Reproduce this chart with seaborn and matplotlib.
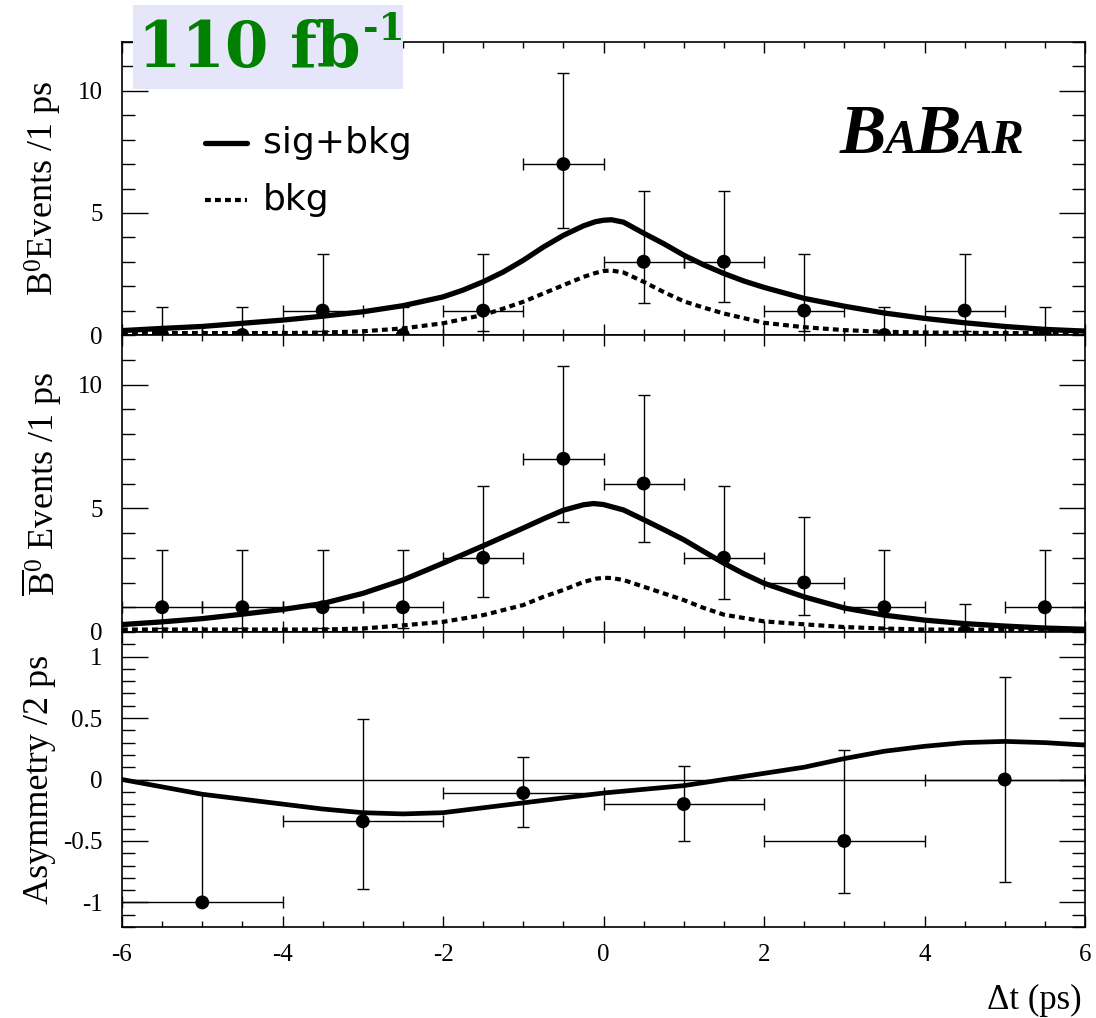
import numpy as np
import pandas as pd
import matplotlib
matplotlib.use("Agg")
import matplotlib.pyplot as plt
import seaborn as sns
from matplotlib.ticker import MultipleLocator, FuncFormatter
from matplotlib.patches import Rectangle
from matplotlib.lines import Line2D

# ---------------- data ----------------
bin_centers = [-5.5, -4.5, -3.5, -2.5, -1.5, -0.5, 0.5, 1.5, 2.5, 3.5, 4.5, 5.5]
bin_half = [0.5] * 12

b0_counts = [0, 0, 1, 0, 1, 7, 3, 3, 1, 0, 1, 0]
b0_err_lo = [0, 0, 0.83, 0, 0.83, 2.6, 1.7, 1.65, 0.83, 0, 0.83, 0]
b0_err_hi = [1.15, 1.15, 2.3, 1.15, 2.3, 3.73, 2.88, 2.9, 2.3, 1.15, 2.3, 1.15]

b0bar_counts = [1, 1, 1, 1, 3, 7, 6, 3, 2, 1, 0, 1]
b0bar_err_lo = [0.83, 0.83, 0.83, 0.83, 1.6, 2.55, 2.38, 1.65, 1.32, 0.83, 0, 0.83]
b0bar_err_hi = [2.3, 2.3, 2.3, 2.3, 2.9, 3.75, 3.58, 2.9, 2.65, 2.3, 1.15, 2.3]

asym_x = [-5, -3, -1, 1, 3, 5]
asym_half = [1, 1, 1, 1, 1, 1]
asym_y = [-1.0, -0.34, -0.11, -0.2, -0.5, 0.0]
asym_err_lo = [0.0, 0.55, 0.28, 0.3, 0.42, 0.83]
asym_err_hi = [0.88, 0.83, 0.29, 0.31, 0.74, 0.83]

# fitted curves
top_sb_t = [-6, -5.5, -5, -4.5, -4, -3.5, -3, -2.5, -2, -1.75, -1.5, -1.25, -1, -0.75, -0.5, -0.25,
            -0.1, 0, 0.1, 0.25, 0.5, 0.75, 1, 1.25, 1.5, 1.75, 2, 2.5, 3, 3.5, 4, 4.5, 5, 5.5, 6]
top_sb_v = [0.18, 0.27, 0.35, 0.48, 0.61, 0.77, 0.95, 1.2, 1.56, 1.84, 2.18, 2.58, 3.06, 3.6, 4.08, 4.47,
            4.64, 4.7, 4.72, 4.62, 4.17, 3.74, 3.27, 2.87, 2.52, 2.21, 1.95, 1.5, 1.18, 0.9, 0.68, 0.5, 0.35, 0.23, 0.16]

top_bkg_t = [-6, -5, -4, -3.5, -3, -2.5, -2, -1.5, -1.25, -1, -0.75, -0.5, -0.25, -0.1, 0, 0.1, 0.25,
             0.5, 0.75, 1, 1.25, 1.5, 2, 2.5, 3, 3.5, 4, 5, 6]
top_bkg_v = [0.08, 0.08, 0.08, 0.1, 0.15, 0.27, 0.48, 0.82, 1.08, 1.36, 1.7, 2.04, 2.38, 2.54, 2.62, 2.64, 2.56,
             2.18, 1.76, 1.38, 1.12, 0.88, 0.5, 0.32, 0.2, 0.13, 0.1, 0.08, 0.08]

mid_sb_t = [-6, -5.5, -5, -4.5, -4, -3.5, -3, -2.5, -2, -1.5, -1, -0.75, -0.5, -0.25, -0.125, 0,
            0.25, 0.5, 0.75, 1, 1.25, 1.5, 1.75, 2, 2.5, 3, 3.5, 4, 4.5, 5, 5.5, 6]
mid_sb_v = [0.3, 0.41, 0.54, 0.72, 0.91, 1.15, 1.56, 2.1, 2.78, 3.48, 4.2, 4.57, 4.92, 5.14, 5.19, 5.15,
            4.93, 4.54, 4.14, 3.73, 3.25, 2.78, 2.35, 1.97, 1.42, 0.97, 0.68, 0.48, 0.34, 0.24, 0.16, 0.11]

mid_bkg_t = [-6, -4, -3.5, -3, -2.5, -2, -1.5, -1, -0.75, -0.5, -0.25, -0.1, 0, 0.1, 0.25, 0.5, 0.75,
             1, 1.25, 1.5, 2, 2.5, 3, 3.5, 4, 6]
mid_bkg_v = [0.1, 0.1, 0.1, 0.14, 0.27, 0.41, 0.68, 1.09, 1.42, 1.7, 2.02, 2.15, 2.19, 2.18, 2.1, 1.83, 1.56,
             1.29, 0.97, 0.7, 0.43, 0.31, 0.2, 0.14, 0.1, 0.08]

asym_t = [-6, -5.5, -5, -4.5, -4, -3.5, -3, -2.5, -2, -1.5, -1, -0.5, 0, 0.5, 1, 1.5, 2,
          2.5, 3, 3.5, 4, 4.5, 5, 5.5, 6]
asym_v = [0.0, -0.06, -0.12, -0.16, -0.2, -0.24, -0.27, -0.28, -0.27, -0.23, -0.19, -0.15, -0.11,
          -0.08, -0.05, 0.0, 0.05, 0.1, 0.17, 0.23, 0.27, 0.3, 0.31, 0.3, 0.28]

ylabels = [r"B$^{0}$Events /1 ps", r"$\overline{\mathrm{B}}^{0}$ Events /1 ps", "Asymmetry /2 ps"]

# ---------------- style ----------------
sns.set_style("ticks")
plt.rcParams['font.family'] = ['Liberation Serif', 'DejaVu Serif']
plt.rcParams['mathtext.fontset'] = 'custom'
plt.rcParams['mathtext.rm'] = 'Liberation Serif'
plt.rcParams['mathtext.it'] = 'Liberation Serif:italic'
plt.rcParams['mathtext.bf'] = 'Liberation Serif:bold'
plt.rcParams['axes.unicode_minus'] = False
for k in ['text.color', 'axes.labelcolor', 'xtick.color', 'ytick.color', 'axes.edgecolor']:
    plt.rcParams[k] = 'black'

W, H = 1096, 1018
fig = plt.figure(figsize=(W / 100, H / 100), dpi=100)
gs = fig.add_gridspec(3, 1, left=122 / W, right=1085 / W, top=1 - 42 / H, bottom=1 - 927 / H,
                      hspace=0, height_ratios=[293, 297, 295])
axes = [fig.add_subplot(gs[i]) for i in range(3)]

fmt = FuncFormatter(lambda v, p: "%g" % round(v, 6))


def style(ax, ymaj, ymin):
    for s in ax.spines.values():
        s.set_visible(True)
        s.set_linewidth(1.2)
        s.set_color('black')
    ax.set_xlim(-6, 6)
    ax.xaxis.set_major_locator(MultipleLocator(2))
    ax.xaxis.set_minor_locator(MultipleLocator(0.5))
    ax.yaxis.set_major_locator(MultipleLocator(ymaj))
    ax.yaxis.set_minor_locator(MultipleLocator(ymin))
    ax.xaxis.set_major_formatter(fmt)
    ax.yaxis.set_major_formatter(fmt)
    ax.tick_params(axis='both', which='both', direction='in', top=True, bottom=True,
                   left=True, right=True, width=1.0, colors='black')
    ax.tick_params(axis='x', which='major', length=8, labelsize=18, pad=12)
    ax.tick_params(axis='x', which='minor', length=4)
    ax.tick_params(axis='y', which='major', length=19, labelsize=18, pad=14)
    ax.tick_params(axis='y', which='minor', length=9.5)


def draw_points(ax, x, xe, y, lo, hi):
    ax.errorbar(x, y, xerr=xe, yerr=[lo, hi], fmt='none', ecolor='black', elinewidth=1.0,
                capsize=4, capthick=1.0, zorder=3)
    sns.scatterplot(x=x, y=y, ax=ax, color='black', s=100, edgecolor='none', zorder=4, legend=False)


dash = (0, (1.4, 1.0))

# top panel
ax = axes[0]
draw_points(ax, bin_centers, bin_half, b0_counts, b0_err_lo, b0_err_hi)
sns.lineplot(x=top_sb_t, y=top_sb_v, ax=ax, color='black', lw=3.8, zorder=5)
sns.lineplot(x=top_bkg_t, y=top_bkg_v, ax=ax, color='black', lw=3.0, linestyle=dash, zorder=5)
ax.set_ylim(0, 12)
style(ax, 5, 1)
ax.tick_params(axis='x', labelbottom=False)

# middle panel
ax = axes[1]
draw_points(ax, bin_centers, bin_half, b0bar_counts, b0bar_err_lo, b0bar_err_hi)
sns.lineplot(x=mid_sb_t, y=mid_sb_v, ax=ax, color='black', lw=3.8, zorder=5)
sns.lineplot(x=mid_bkg_t, y=mid_bkg_v, ax=ax, color='black', lw=3.0, linestyle=dash, zorder=5)
ax.set_ylim(0, 12)
style(ax, 5, 1)
ax.tick_params(axis='x', labelbottom=False)

# bottom panel
ax = axes[2]
ax.axhline(0, color='black', lw=1.0, zorder=2)
draw_points(ax, asym_x, asym_half, asym_y, asym_err_lo, asym_err_hi)
sns.lineplot(x=asym_t, y=asym_v, ax=ax, color='black', lw=3.4, zorder=5)
ax.set_ylim(-1.2, 1.2)
style(ax, 0.5, 0.1)

label_x = [-0.060, -0.060, -0.069]
for ax, lab, lx in zip(axes, ylabels, label_x):
    ax.set_ylabel(lab, fontsize=26)
    ax.yaxis.set_label_coords(lx, 0.5)
    ax.set_xlabel("")

fig.text(1082 / W, 1 - 1000 / H, "Δt (ps)", ha='right', va='center', fontsize=25)

# legend (drawn manually)
fig.add_artist(Line2D([205 / W, 247 / W], [1 - 143 / H] * 2, color='black', lw=3.8,
                      transform=fig.transFigure))
fig.add_artist(Line2D([205 / W, 247 / W], [1 - 200 / H] * 2, color='black', lw=3.0,
                      linestyle=dash, transform=fig.transFigure))
fig.text(263 / W, 1 - 143 / H, "sig+bkg", fontsize=26, family='DejaVu Sans', va='center', ha='left')
fig.text(263 / W, 1 - 200 / H, "bkg", fontsize=26, family='DejaVu Sans', va='center', ha='left')

renderer = fig.canvas.get_renderer()

# BaBar logo
xpos = 840
for txt, size in [("B", 50), ("A", 35), ("B", 50), ("AR", 35)]:
    t = fig.text(xpos / W, 1 - 153 / H, txt, fontsize=size, fontweight='bold', fontstyle='italic',
                 family='Liberation Serif', va='baseline', ha='left')
    bb = t.get_window_extent(renderer)
    xpos = bb.x1 - 2

# luminosity box
fig.add_artist(Rectangle((133 / W, 1 - 89 / H), 270 / W, 84 / H, transform=fig.transFigure,
                         facecolor='#e6e6fa', edgecolor='none', zorder=20))
t1 = fig.text(138 / W, 1 - 67 / H, "110 fb", fontsize=45, fontweight='bold', family='DejaVu Serif',
              color='#008000', va='baseline', ha='left', zorder=21)
bb = t1.get_window_extent(renderer)
fig.text((bb.x1 + 2) / W, 1 - 40 / H, "-1", fontsize=27, fontweight='bold', family='DejaVu Serif',
         color='#008000', va='baseline', ha='left', zorder=21)

fig.savefig("out.png", dpi=100)
